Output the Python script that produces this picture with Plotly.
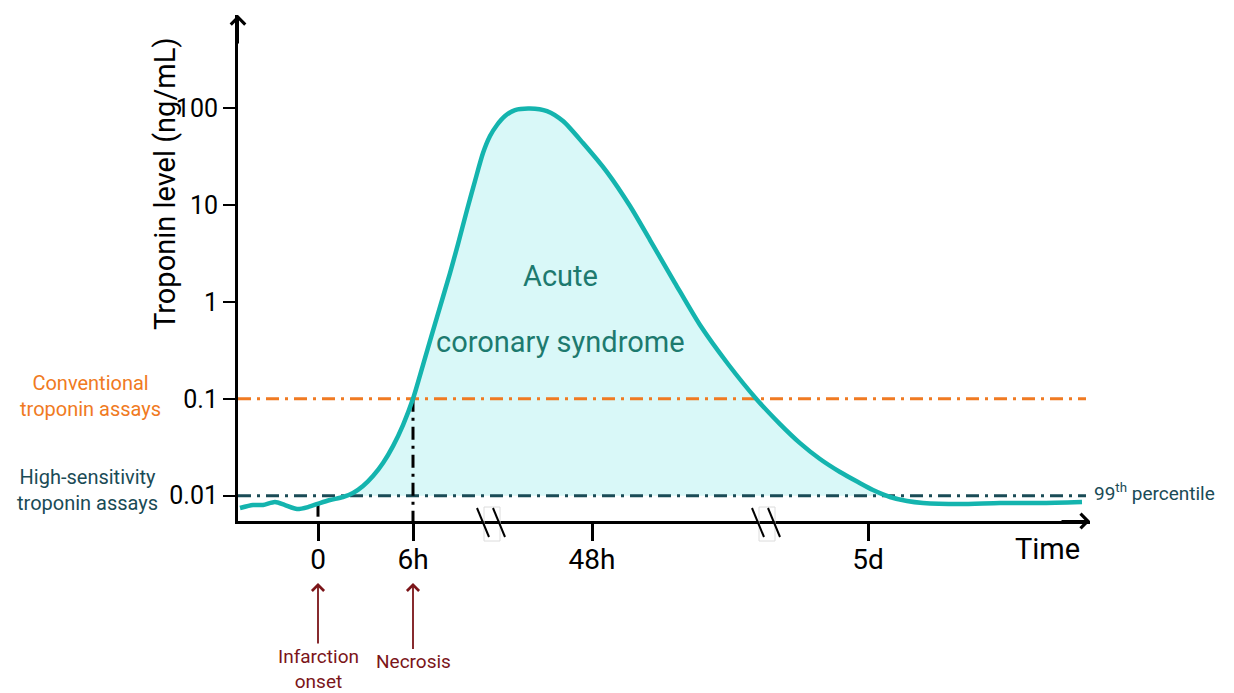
import numpy as np
import plotly.graph_objects as go

# ---------------- data (schematic time positions; ticks mark 0, 6h, 48h, 5d) -------------
time_pos = [-7.8, -6.5, -5.5, -4.3, -3.3, -2.1, -1.0, 0.2, 1.2, 2.5, 3.5, 4.5, 5.5, 6.5, 7.5,
            8.5, 9.5, 10.7, 11.9, 13.2, 14.0, 14.9, 15.7, 16.5, 17.2, 17.9, 18.7, 19.7, 21.2,
            22.9, 24.5, 26.5, 28.9, 31.2, 33.2, 35.7, 38.2, 41.0, 43.9, 46.2, 48.2, 50.2, 52.2,
            54.0, 55.5, 57.2, 58.9, 60.5, 64.2, 68.2, 72.2, 76.4]
troponin = [0.00745, 0.0080, 0.0080, 0.00859, 0.0080, 0.00728, 0.00762, 0.00839, 0.00901,
            0.00968, 0.01064, 0.01256, 0.01592, 0.02172, 0.0325, 0.0536, 0.100, 0.264, 0.700,
            1.99, 3.97, 8.92, 17.8, 34.6, 51.8, 67.4, 83.4, 96.2, 100.0, 94.0, 74.1, 43.9, 22.0,
            9.81, 4.37, 1.57, 0.578, 0.229, 0.098, 0.0549, 0.0349, 0.0239, 0.01754, 0.01381,
            0.01142, 0.00968, 0.00879, 0.00839, 0.00819, 0.00839, 0.00839, 0.00859]

x_tick_pos = [0, 9.5, 27.4, 55.0]
x_tick_text = ["0", "6h", "48h", "5d"]
y_tick_vals = [0.01, 0.1, 1, 10, 100]
y_tick_text = ["0.01", "0.1", "1", "10", "100"]
conventional_threshold = 0.1
hs_threshold = 0.01
onset_pos = 0
necrosis_pos = 9.5
break_pos = [17.4, 44.9]

# ---------------- styles ----------------
FONT = "Roboto, sans-serif"
TEAL = "#14b4ae"
FILL = "#d9f8f8"
ORANGE = "#f07a22"
DARK = "#1a4b56"
RED = "#7b1519"
XR = [-8.0, 77.2]
YR = [-2.262, 2.965]
DASH = "13px,6px,3px,6px"

fig = go.Figure()

# baseline for fill
fig.add_trace(go.Scatter(x=[XR[0], time_pos[-1]], y=[hs_threshold, hs_threshold], mode="lines",
                         line=dict(width=0, color=FILL), hoverinfo="skip", showlegend=False))
clipped = np.maximum(np.array(troponin), hs_threshold)
fig.add_trace(go.Scatter(x=time_pos, y=clipped, mode="lines",
                         line=dict(width=0, shape="spline", smoothing=0.7),
                         fill="tonexty", fillcolor=FILL, hoverinfo="skip", showlegend=False))

# threshold lines
line_end = time_pos[-1] + 0.4
fig.add_trace(go.Scatter(x=[XR[0], line_end], y=[conventional_threshold] * 2, mode="lines",
                         line=dict(color=ORANGE, width=3, dash=DASH), showlegend=False))
fig.add_trace(go.Scatter(x=[XR[0], line_end], y=[hs_threshold] * 2, mode="lines",
                         line=dict(color=DARK, width=3, dash=DASH), showlegend=False))

# vertical guides
log_t = np.log10(np.array(troponin))
onset_val = 10 ** np.interp(onset_pos, time_pos, log_t)
ybottom = 10 ** YR[0]
fig.add_trace(go.Scatter(x=[onset_pos, onset_pos], y=[onset_val, ybottom], mode="lines",
                         line=dict(color="black", width=3, dash=DASH), showlegend=False))
fig.add_trace(go.Scatter(x=[necrosis_pos, necrosis_pos], y=[conventional_threshold, ybottom],
                         mode="lines", line=dict(color="black", width=3, dash=DASH), showlegend=False))

# curve
fig.add_trace(go.Scatter(x=time_pos, y=troponin, mode="lines",
                         line=dict(color=TEAL, width=4.5, shape="spline", smoothing=0.7),
                         showlegend=False))

shapes = []
for bp in break_pos:
    shapes.append(dict(type="rect", xref="x", xsizemode="pixel", xanchor=bp, x0=-8, x1=8,
                       yref="paper", ysizemode="pixel", yanchor=0, y0=-20, y1=14,
                       line=dict(color="#dcdcdc", width=1), fillcolor="rgba(255,255,255,0)"))
    for off in (-15, 1):
        shapes.append(dict(type="line", xref="x", xsizemode="pixel", xanchor=bp, x0=off, x1=off + 12,
                           yref="paper", ysizemode="pixel", yanchor=0, y0=13, y1=-16,
                           line=dict(color="black", width=2)))


def label(x, y, text, size, color, xanchor="center", **kw):
    return dict(x=x, y=y, xref="paper", yref="paper", text=text, showarrow=False,
                xanchor=xanchor, yanchor="middle",
                font=dict(family=FONT, size=size, color=color), **kw)


annotations = [
    # axis arrowheads
    dict(x=0, y=1, xref="paper", yref="paper", ax=0, ay=30, text="", showarrow=True,
         arrowhead=4, arrowsize=1.4, arrowwidth=2, arrowcolor="black"),
    dict(x=1, y=0, xref="paper", yref="paper", ax=-30, ay=0, text="", showarrow=True,
         arrowhead=4, arrowsize=1.4, arrowwidth=2, arrowcolor="black"),
    label(-0.0857, 0.668, "Troponin level (ng/mL)", 29, "black", textangle=-90),
    label(-0.1737, 0.247, "Conventional<br>troponin assays", 20, ORANGE),
    label(-0.177, 0.061, "High-sensitivity<br>troponin assays", 20, DARK),
    label(1.0023, 0.057, "99<sup>th</sup> percentile", 19, DARK, xanchor="left"),
    label(0.9906, -0.055, "Time", 29, "black", xanchor="right"),
    label(0.379, 0.484, "Acute", 29, "#1d7a6f"),
    label(0.379, 0.354, "coronary syndrome", 29, "#1d7a6f"),
    dict(x=onset_pos, y=-0.1225, xref="x", yref="paper", ax=0, ay=86, text="Infarction<br>onset",
         showarrow=True, arrowhead=4, arrowsize=1.3, arrowwidth=1.8, arrowcolor=RED,
         font=dict(family=FONT, size=19, color=RED)),
    dict(x=necrosis_pos, y=-0.1225, xref="x", yref="paper", ax=0, ay=79, text="Necrosis",
         showarrow=True, arrowhead=4, arrowsize=1.3, arrowwidth=1.8, arrowcolor=RED,
         font=dict(family=FONT, size=19, color=RED)),
]

fig.update_layout(
    width=1234, height=693,
    margin=dict(l=238, r=144, t=15, b=172, autoexpand=False),
    paper_bgcolor="white", plot_bgcolor="white",
    shapes=shapes, annotations=annotations,
    xaxis=dict(range=XR, showgrid=False, zeroline=False, showline=True, linecolor="black",
               linewidth=3, ticks="outside", ticklen=17, tickwidth=3, tickcolor="black",
               tickvals=x_tick_pos, ticktext=x_tick_text, ticklabelstandoff=-6,
               tickfont=dict(family=FONT, size=28, color="black")),
    yaxis=dict(type="log", range=YR, showgrid=False, zeroline=False, showline=True,
               linecolor="black", linewidth=3, ticks="outside", ticklen=12, tickwidth=2,
               tickcolor="black", tickvals=y_tick_vals, ticktext=y_tick_text,
               tickfont=dict(family=FONT, size=25, color="black")),
)

fig.write_html("out.html", config={"displayModeBar": False},
               post_script="document.body.style.margin='0';")
